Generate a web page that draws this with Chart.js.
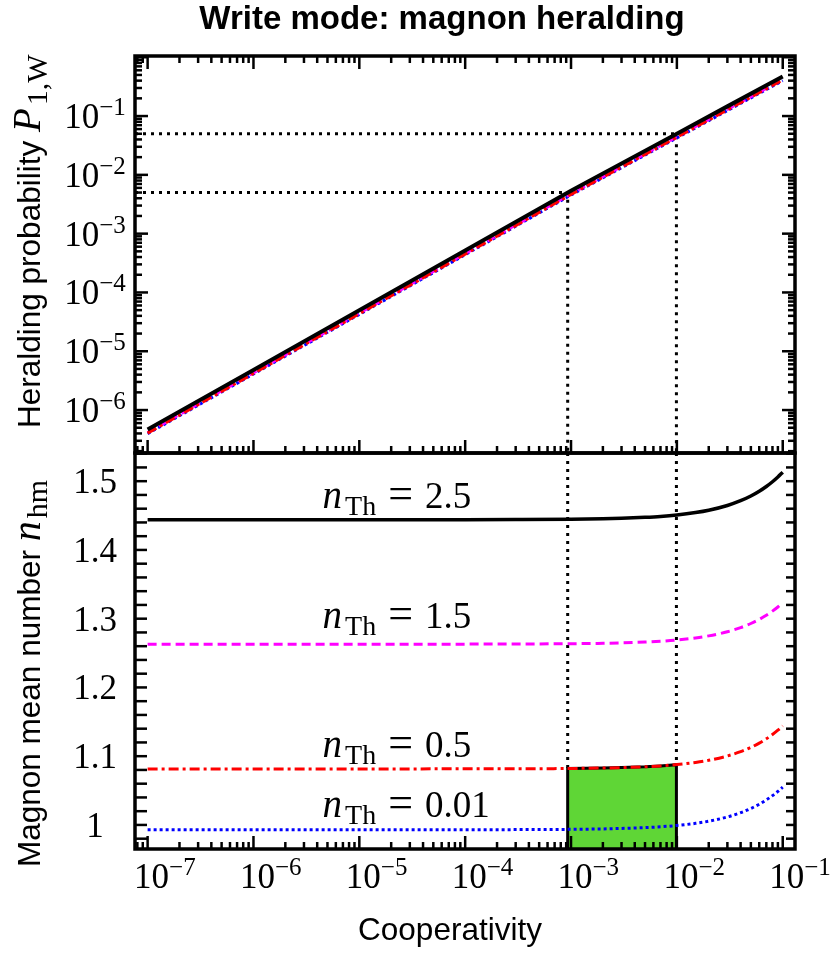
<!DOCTYPE html>
<html>
<head>
<meta charset="utf-8">
<title>Write mode: magnon heralding</title>
<script src="https://cdn.jsdelivr.net/npm/chart.js@4.4.1/dist/chart.umd.min.js"></script>
<style>
  html, body { margin: 0; padding: 0; background: #fff; }
  #wrap { position: relative; width: 833px; height: 954px; }
  #wrap canvas { position: absolute; left: 0; top: 0; }
</style>
</head>
<body>
<div id="wrap">
  <canvas id="top-chart" width="833" height="954"></canvas>
  <canvas id="bottom-chart" width="833" height="954"></canvas>
</div>
<script>
// ---- data ----
// shared x axis: cooperativity
var X_MIN = 7.6e-8, X_MAX = 0.1306;

// top panel: heralding probability P_1,W (log)
var P_MIN = 1.86e-7, P_MAX = 1.05;
var coopTop = [1e-7, 1e-6, 1e-5, 1e-4, 1e-3, 1e-2, 3e-2, 1e-1];
var probBlack   = [4.66e-7, 4.82e-6, 4.99e-5, 5.16e-4, 5.35e-3, 5.0e-2, 0.146, 0.471];
var probMagenta = [4.15e-7, 4.29e-6, 4.44e-5, 4.59e-4, 4.76e-3, 4.45e-2, 0.130, 0.419];
var probRed     = [4.05e-7, 4.19e-6, 4.34e-5, 4.49e-4, 4.65e-3, 4.35e-2, 0.127, 0.410];
var probBlue    = [3.96e-7, 4.10e-6, 4.24e-5, 4.39e-4, 4.55e-3, 4.25e-2, 0.124, 0.400];

// bottom panel: magnon mean number n_hm (linear)
var N_MIN = 0.965, N_MAX = 1.541;
var coopBottom = [1e-7, 1e-5, 1e-4, 3e-4, 1e-3, 2e-3, 3e-3, 5e-3, 7e-3, 1e-2, 1.5e-2, 2e-2,
                  3e-2, 4e-2, 5e-2, 6e-2, 7e-2, 8e-2, 9e-2, 1e-1];
var nBlack   = [1.444, 1.444, 1.444, 1.4442, 1.4447, 1.4454, 1.4461, 1.4475, 1.4488, 1.4509, 1.4544, 1.4578,
                1.4647, 1.4716, 1.4785, 1.4854, 1.4923, 1.4992, 1.5061, 1.513];
var nMagenta = [1.263, 1.263, 1.263, 1.2632, 1.2636, 1.2642, 1.2648, 1.266, 1.2672, 1.269, 1.272, 1.275,
                1.281, 1.287, 1.293, 1.299, 1.305, 1.311, 1.317, 1.323];
var nRed     = [1.0815, 1.0815, 1.0816, 1.0817, 1.0821, 1.0828, 1.0834, 1.0846, 1.0859, 1.0878, 1.0909, 1.094,
                1.1003, 1.1065, 1.1128, 1.119, 1.1253, 1.1315, 1.1378, 1.144];
var nBlue    = [0.993, 0.993, 0.9931, 0.9932, 0.9936, 0.9942, 0.9949, 0.9961, 0.9973, 0.9992, 1.0023, 1.0054,
                1.0116, 1.0178, 1.024, 1.0302, 1.0364, 1.0426, 1.0488, 1.055];

// operating window (dotted guides + green box)
var guideC = [9.3e-4, 9.9e-3];
var guideP = [0.005, 0.05];
var boxC   = [9.3e-4, 2e-3, 3e-3, 5e-3, 7e-3, 9.9e-3];
var boxTop = [1.0821, 1.0828, 1.0834, 1.0846, 1.0859, 1.0877];

// curve labels
var labelText = ['2.5', '1.5', '0.5', '0.01'];
var labelC = 4.5e-6;
var labelN = [1.461, 1.2865, 1.099, 1.0116];

// tick labels
var xTickExp = [-7, -6, -5, -4, -3, -2, -1];
var pTickExp = [-6, -5, -4, -3, -2, -1];
var nTickVals = [1, 1.1, 1.2, 1.3, 1.4, 1.5];

var SANS = '"Liberation Sans", Arial, sans-serif';
var SERIF = '"Liberation Serif", "Times New Roman", serif';

function pts(xs, ys) {
  return xs.map(function (x, i) { return {x: x, y: ys[i]}; });
}

// draws a row of text pieces one after another
function drawRuns(ctx, x, y, runs) {
  runs.forEach(function (r) {
    ctx.font = r.font;
    x += r.gap || 0;
    ctx.fillText(r.text, x, y + (r.dy || 0));
    x += ctx.measureText(r.text).width;
  });
  return x;
}
function runsWidth(ctx, runs) {
  var w = 0;
  runs.forEach(function (r) { ctx.font = r.font; w += (r.gap || 0) + ctx.measureText(r.text).width; });
  return w;
}
function powRuns(e) {
  return [{text: '10', font: '35px ' + SERIF}, {text: '\u2212' + Math.abs(e), font: '25px ' + SERIF, dy: -13}];
}

function tick(ctx, x1, y1, x2, y2) {
  ctx.beginPath(); ctx.moveTo(x1, y1); ctx.lineTo(x2, y2); ctx.stroke();
}

// inward x ticks of a log axis
function drawLogXTicks(ctx, xs, area, top, bottom) {
  for (var e = -8; e <= 0; e++) {
    for (var m = 1; m <= 9; m++) {
      var v = m * Math.pow(10, e);
      if (v < xs.min || v > xs.max) continue;
      var px = xs.getPixelForValue(v);
      var len = m === 1 ? 13 : 7;
      if (top) tick(ctx, px, area.top, px, area.top + len);
      if (bottom) tick(ctx, px, area.bottom, px, area.bottom - len);
    }
  }
}

var frameTicks = {
  id: 'frameTicks',
  afterDraw: function (chart, args, opts) {
    var ctx = chart.ctx, a = chart.chartArea;
    var xs = chart.scales.x, ys = chart.scales.y;
    ctx.save();
    ctx.strokeStyle = '#000';
    ctx.fillStyle = '#000';
    ctx.lineWidth = 2.5;
    ctx.lineCap = 'butt';
    drawLogXTicks(ctx, xs, a, opts.xTop, true);

    if (opts.panel === 'top') {
      for (var e = -7; e <= 0; e++) {
        for (var m = 1; m <= 9; m++) {
          var v = m * Math.pow(10, e);
          if (v < ys.min || v > ys.max) continue;
          var py = ys.getPixelForValue(v);
          var len = m === 1 ? 13 : 7;
          tick(ctx, a.left, py, a.left + len, py);
          tick(ctx, a.right, py, a.right - len, py);
        }
      }
      ctx.textBaseline = 'alphabetic';
      ctx.textAlign = 'left';
      pTickExp.forEach(function (e) {
        var runs = powRuns(e);
        var w = runsWidth(ctx, runs);
        drawRuns(ctx, 95 - w / 2, ys.getPixelForValue(Math.pow(10, e)) + 12, runs);
      });
    } else {
      for (var k = 49; k <= 77; k++) {
        var val = k * 0.02;
        if (val < ys.min || val > ys.max) continue;
        var py2 = ys.getPixelForValue(val);
        tick(ctx, a.left, py2, a.left + 12, py2);
        tick(ctx, a.right, py2, a.right - 9, py2);
      }
      ctx.textAlign = 'center';
      ctx.font = '35px ' + SERIF;
      nTickVals.forEach(function (v) {
        ctx.fillText(String(v), 95, ys.getPixelForValue(v) + 12);
      });
      ctx.textAlign = 'left';
      xTickExp.forEach(function (e) {
        drawRuns(ctx, xs.getPixelForValue(Math.pow(10, e)) - 13.5, 888, powRuns(e));
      });

      // curve labels
      var lx = xs.getPixelForValue(labelC);
      labelText.forEach(function (t, i) {
        var ly = ys.getPixelForValue(labelN[i]);
        drawRuns(ctx, lx, ly, [
          {text: 'n', font: 'italic 39px ' + SERIF},
          {text: 'Th', font: '28px ' + SERIF, dy: 7, gap: 3},
          {text: '=', font: '44px ' + SERIF, gap: 12},
          {text: t, font: '37px ' + SERIF, gap: 12}
        ]);
      });

      // titles
      ctx.textAlign = 'center';
      ctx.font = 'bold 33px ' + SANS;
      ctx.fillText('Write mode: magnon heralding', 442, 29);
      ctx.font = '31.5px ' + SANS;
      ctx.fillText('Cooperativity', 450, 940);
      ctx.textAlign = 'left';

      ctx.save();
      ctx.translate(40, 428);
      ctx.rotate(-Math.PI / 2);
      drawRuns(ctx, 0, 0, [
        {text: 'Heralding probability ', font: '31.5px ' + SANS},
        {text: 'P', font: 'italic 39px ' + SERIF},
        {text: '1,W', font: '30px ' + SERIF, dy: 7, gap: 3}
      ]);
      ctx.restore();

      ctx.save();
      ctx.translate(40, 867);
      ctx.rotate(-Math.PI / 2);
      drawRuns(ctx, 0, 0, [
        {text: 'Magnon mean number ', font: '31.5px ' + SANS},
        {text: 'n', font: 'italic 40px ' + SERIF},
        {text: 'hm', font: '30px ' + SERIF, dy: 7, gap: 3}
      ]);
      ctx.restore();
    }

    ctx.lineWidth = 3.5;
    ctx.strokeRect(a.left, a.top, a.right - a.left, a.bottom - a.top);
    ctx.restore();
  }
};

var dotted = [3, 5];

function baseOptions(padding, yScale, panel, xTop) {
  return {
    responsive: false,
    animation: false,
    devicePixelRatio: 1,
    events: [],
    layout: {padding: padding},
    elements: {point: {radius: 0}},
    plugins: {
      legend: {display: false},
      tooltip: {enabled: false},
      frameTicks: {panel: panel, xTop: xTop}
    },
    scales: {
      x: {type: 'logarithmic', min: X_MIN, max: X_MAX, display: false},
      y: yScale
    }
  };
}

var topChart = new Chart(document.getElementById('top-chart'), {
  type: 'line',
  data: {
    datasets: [
      {data: pts(coopTop, probBlack), borderColor: '#000', borderWidth: 4},
      {data: pts(coopTop, probRed), borderColor: '#ff0000', borderWidth: 3, borderDash: [10, 4, 3, 4]},
      {data: pts(coopTop, probMagenta), borderColor: '#ff00ff', borderWidth: 3, borderDash: [8, 5]},
      {data: pts(coopTop, probBlue), borderColor: '#0000ff', borderWidth: 3, borderDash: [3, 3]},
      {data: [{x: X_MIN, y: guideP[0]}, {x: guideC[0], y: guideP[0]}, {x: guideC[0], y: P_MIN}],
       borderColor: '#000', borderWidth: 3, borderDash: dotted},
      {data: [{x: X_MIN, y: guideP[1]}, {x: guideC[1], y: guideP[1]}, {x: guideC[1], y: P_MIN}],
       borderColor: '#000', borderWidth: 3, borderDash: dotted}
    ]
  },
  options: baseOptions({left: 135, right: 38, top: 56, bottom: 501},
    {type: 'logarithmic', min: P_MIN, max: P_MAX, display: false}, 'top', true),
  plugins: [frameTicks]
});

var bottomChart = new Chart(document.getElementById('bottom-chart'), {
  type: 'line',
  data: {
    datasets: [
      {data: pts(coopBottom, nBlack), borderColor: '#000', borderWidth: 3.5, cubicInterpolationMode: 'monotone'},
      {data: pts(coopBottom, nMagenta), borderColor: '#ff00ff', borderWidth: 3, borderDash: [9, 5], cubicInterpolationMode: 'monotone'},
      {data: pts(coopBottom, nRed), borderColor: '#ff0000', borderWidth: 3, borderDash: [10, 4, 3, 4], cubicInterpolationMode: 'monotone'},
      {data: pts(coopBottom, nBlue), borderColor: '#0000ff', borderWidth: 3, borderDash: [3, 3], cubicInterpolationMode: 'monotone'},
      {data: [{x: boxC[0], y: N_MIN}].concat(pts(boxC, boxTop), [{x: boxC[boxC.length - 1], y: N_MIN}]),
       borderColor: '#000', borderWidth: 3, backgroundColor: '#5fd636', fill: 'start'},
      {data: [{x: guideC[0], y: N_MAX}, {x: guideC[0], y: boxTop[0]}],
       borderColor: '#000', borderWidth: 3, borderDash: dotted},
      {data: [{x: guideC[1], y: N_MAX}, {x: guideC[1], y: boxTop[boxTop.length - 1]}],
       borderColor: '#000', borderWidth: 3, borderDash: dotted}
    ]
  },
  options: baseOptions({left: 135, right: 38, top: 453, bottom: 105},
    {type: 'linear', min: N_MIN, max: N_MAX, display: false}, 'bottom', false),
  plugins: [frameTicks]
});
</script>
</body>
</html>
